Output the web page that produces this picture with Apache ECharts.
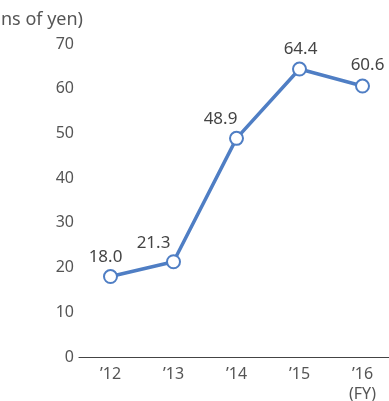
<!DOCTYPE html>
<html>
<head>
<meta charset="utf-8">
<style>
  html, body { margin: 0; padding: 0; background: #fff; }
  #chart { width: 389px; height: 401px; }
</style>
<script src="https://cdn.jsdelivr.net/npm/echarts@6/dist/echarts.min.js"></script>
</head>
<body>
<div id="chart"></div>
<script>
// Fiscal years and values (billions of yen)
const years = ['\u201912', '\u201913', '\u201914', '\u201915', '\u201916\n(FY)'];
const values = [18.0, 21.3, 48.9, 64.4, 60.6];
const yTicks = { min: 0, max: 70, interval: 10 };
const unitLabel = '(billions of yen)';

// Per-point nudges for the value labels so they clear the line
const labelNudge = [[-5, -19], [-20, -19], [-16, -19], [1, -20], [5, -21]];

const chart = echarts.init(document.getElementById('chart'), null, { renderer: 'canvas' });
const font = '"Noto Sans", "Open Sans", sans-serif';
const blue = '#4f7ec4';

chart.setOption({
  animation: false,
  grid: { left: 79, right: -5, top: 44, bottom: 44, outerBoundsMode: 'none', containLabel: false },
  graphic: [{
    type: 'text',
    style: {
      x: 83, y: 20, text: unitLabel, textAlign: 'right', textVerticalAlign: 'middle',
      font: '18px ' + font, fill: '#555'
    }
  }],
  xAxis: {
    type: 'category',
    data: years,
    boundaryGap: true,
    axisLine: { lineStyle: { color: '#444', width: 1.2 } },
    axisTick: { show: false },
    axisLabel: { color: '#555', fontSize: 16, fontFamily: font, margin: 7, lineHeight: 20 }
  },
  yAxis: {
    type: 'value',
    min: yTicks.min, max: yTicks.max, interval: yTicks.interval,
    axisLine: { show: false },
    axisTick: { show: false },
    splitLine: { show: false },
    axisLabel: { color: '#555', fontSize: 16, fontFamily: font, margin: 5 }
  },
  series: [{
    type: 'line',
    data: values.map((v, i) => ({
      value: v,
      label: { offset: labelNudge[i] }
    })),
    symbol: 'emptyCircle',
    symbolSize: 13,
    lineStyle: { color: blue, width: 3.5 },
    itemStyle: { color: blue, borderWidth: 3 },
    label: {
      show: true, position: 'inside',
      formatter: p => p.value.toFixed(1),
      color: '#444', fontSize: 17, fontFamily: font
    }
  }]
});
</script>
</body>
</html>
